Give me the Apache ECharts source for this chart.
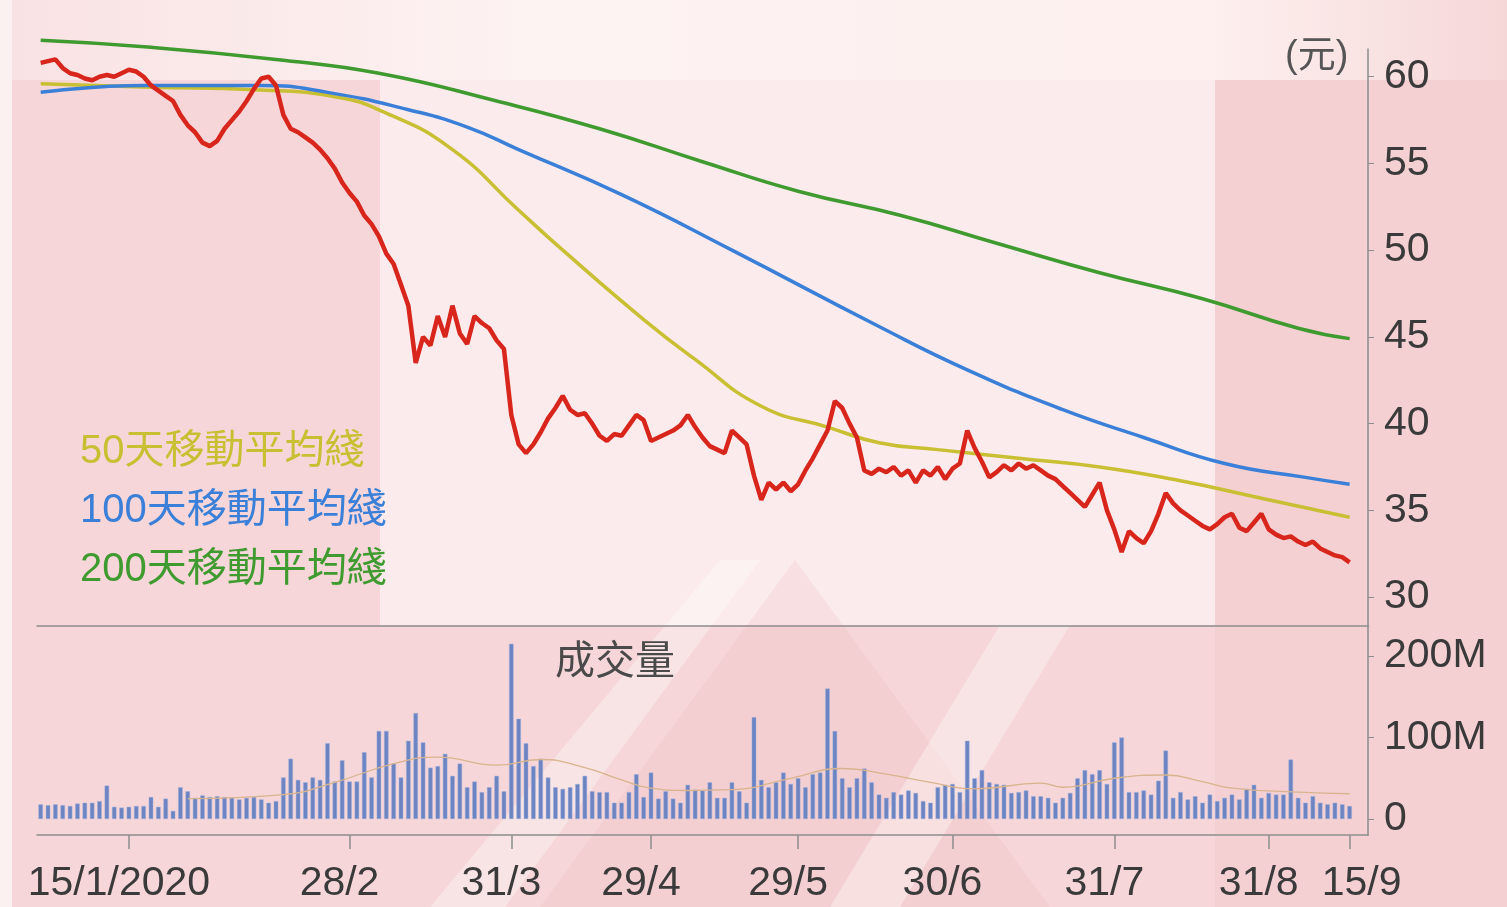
<!DOCTYPE html>
<html>
<head>
<meta charset="utf-8">
<script src="https://cdn.jsdelivr.net/npm/echarts@6/dist/echarts.min.js"></script>
<style>
html,body{margin:0;padding:0;background:#f5d3d5;}
#chart{width:1507px;height:907px;}
</style>
</head>
<body>
<div id="chart"></div>
<script>
// Trading days (HK), 27/12/2019 .. 15/9/2020
const dates = ['27/12','30/12','31/12','2/1','3/1','6/1','7/1','8/1','9/1','10/1','13/1','14/1','15/1','16/1','17/1','20/1','21/1','22/1','23/1','24/1','29/1','30/1','31/1',
'3/2','4/2','5/2','6/2','7/2','10/2','11/2','12/2','13/2','14/2','17/2','18/2','19/2','20/2','21/2','24/2','25/2','26/2','27/2','28/2',
'2/3','3/3','4/3','5/3','6/3','9/3','10/3','11/3','12/3','13/3','16/3','17/3','18/3','19/3','20/3','23/3','24/3','25/3','26/3','27/3','30/3','31/3',
'1/4','2/4','3/4','6/4','7/4','8/4','9/4','14/4','15/4','16/4','17/4','20/4','21/4','22/4','23/4','24/4','27/4','28/4','29/4',
'4/5','5/5','6/5','7/5','8/5','11/5','12/5','13/5','14/5','15/5','18/5','19/5','20/5','21/5','22/5','25/5','26/5','27/5','28/5','29/5',
'1/6','2/6','3/6','4/6','5/6','8/6','9/6','10/6','11/6','12/6','15/6','16/6','17/6','18/6','19/6','22/6','23/6','24/6','26/6','29/6','30/6',
'2/7','3/7','6/7','7/7','8/7','9/7','10/7','13/7','14/7','15/7','16/7','17/7','20/7','21/7','22/7','23/7','24/7','27/7','28/7','29/7','30/7','31/7',
'3/8','4/8','5/8','6/8','7/8','10/8','11/8','12/8','13/8','14/8','17/8','18/8','19/8','20/8','21/8','24/8','25/8','26/8','27/8','28/8','31/8',
'1/9','2/9','3/9','4/9','7/9','8/9','9/9','10/9','11/9','14/9','15/9'];

const tickDates = ['15/1','28/2','31/3','29/4','29/5','30/6','31/7','31/8','15/9'];
const priceTicks = [30,35,40,45,50,55,60];
const volumeTicks = [0,100,200];

// closing price (HK$)
const price = [60.8,60.9,61.0,60.5,60.2,60.1,59.9,59.8,60.0,60.1,
60.0,60.2,60.4,60.3,60.0,59.5,59.2,58.9,58.6,57.8,
57.2,56.8,56.2,56.0,56.3,57.0,57.5,58.0,58.6,59.3,
59.9,60.0,59.5,57.8,57.0,56.8,56.5,56.2,55.8,55.3,
54.7,53.9,53.3,52.8,52.0,51.5,50.8,49.8,49.2,48.0,
46.8,43.5,45.0,44.5,46.2,45.0,46.8,45.2,44.6,46.2,
45.8,45.5,44.8,44.3,40.5,38.8,38.3,38.8,39.5,40.3,
40.9,41.6,40.8,40.5,40.6,40.0,39.3,39.0,39.4,39.3,
39.9,40.5,40.2,39.0,39.2,39.4,39.6,39.9,40.5,39.8,
39.2,38.7,38.5,38.3,39.6,39.2,38.8,37.0,35.6,36.6,
36.2,36.6,36.1,36.5,37.3,38.0,38.8,39.6,41.3,40.9,
40.0,39.2,37.3,37.1,37.4,37.2,37.5,37.0,37.3,36.6,
37.3,37.0,37.5,36.8,37.4,37.7,39.6,38.6,37.8,36.9,
37.2,37.6,37.3,37.7,37.4,37.6,37.3,37.0,36.8,36.4,
36.0,35.6,35.2,35.9,36.6,35.0,33.9,32.6,33.8,33.4,
33.1,33.8,34.8,36.0,35.4,35.0,34.7,34.4,34.1,33.9,
34.2,34.6,34.8,34.0,33.8,34.3,34.8,33.9,33.6,33.4,
33.5,33.2,33.0,33.2,32.8,32.6,32.4,32.3,32.0];

// moving averages: [day index, value]
const ma50 = [[0,59.6],[15,59.4],[29,59.25],[40,58.85],[47,57.9],[56,55.8],[65,52.3],[71,50.0],[82,46.0],[89,43.7],[98,41.0],[107,39.8],[114,38.9],[122,38.5],[133,38.0],[144,37.5],[155,36.7],[166,35.7],[178,34.6]];
const ma100 = [[0,59.1],[14,59.5],[30,59.5],[39,59.1],[50,58.1],[58,57.1],[65,55.8],[79,53.2],[94,50.0],[114,45.6],[126,43.1],[139,40.8],[150,39.2],[161,37.7],[172,36.9],[178,36.5]];
const ma200 = [[0,62.1],[15,61.7],[32,61.0],[46,60.2],[62,58.6],[76,57.0],[90,55.1],[103,53.4],[117,52.0],[130,50.4],[144,48.7],[158,47.2],[171,45.5],[178,44.9]];

// daily volume (millions of shares)
const volume = [18,17,18,17,16,19,20,20,22,41,
15,14,15,16,16,27,15,25,10,39,
34,26,29,27,28,27,26,24,26,27,
24,20,22,51,74,48,45,51,48,93,
46,72,46,46,82,51,108,108,68,51,
96,130,94,63,65,80,53,68,39,46,
33,39,53,34,215,123,93,65,74,51,
39,37,39,43,53,34,33,33,20,20,
33,55,27,57,25,34,25,20,42,36,
35,45,26,26,45,34,20,125,48,39,
45,57,43,50,39,55,57,160,108,50,
39,50,62,45,30,26,33,30,35,32,
22,20,39,42,43,33,96,50,60,45,
43,42,32,33,35,28,28,26,20,26,
32,50,60,55,60,43,94,100,33,33,
35,30,47,84,26,33,24,28,20,30,
22,26,30,24,37,42,26,32,30,30,
73,26,20,28,20,18,20,18,16];
const volumeMA = [[20,25],[33,30],[40,45],[48,68],[54,76],[62,66],[68,73],[74,63],[79,48],[83,38],[88,35],[94,36],[102,50],[109,62],[115,55],[121,45],[127,37],[136,44],[139,39],[146,50],[153,54],[158,46],[162,38],[171,33],[178,31]];

const FONT = "'Liberation Sans','Noto Sans CJK TC',sans-serif";
const C50 = '#c9bf33', C100 = '#3b80d8', C200 = '#3f9b2f';

const chart = echarts.init(document.getElementById('chart'));
chart.setOption({
  backgroundColor: '#f6d6d8',
  animation: false,
  graphic: [
    {type:'rect', z:-10, silent:true, shape:{x:0,y:0,width:12,height:907}, style:{fill:'#fcf1f1'}},
    {type:'rect', z:-10, silent:true, shape:{x:12,y:0,width:1495,height:80},
      style:{fill:new echarts.graphic.LinearGradient(0,0,1,0,[{offset:0,color:'#f9e2e3'},{offset:0.35,color:'#fdf3f2'},{offset:0.8,color:'#fdf0ef'},{offset:1,color:'#f6d7d8'}])}},
    {type:'rect', z:-10, silent:true, shape:{x:380,y:80,width:835,height:545}, style:{fill:'rgba(255,255,255,0.5)'}},
    {type:'rect', z:-10, silent:true, shape:{x:1215,y:80,width:292,height:827}, style:{fill:'rgba(240,190,195,0.25)'}},
    {type:'polygon', z:-9, silent:true, shape:{points:[[430,907],[505,907],[760,560],[720,560]]}, style:{fill:'rgba(255,255,255,0.35)'}},
    {type:'polygon', z:-9, silent:true, shape:{points:[[540,907],[795,560],[1050,907]]}, style:{fill:'rgba(236,180,185,0.22)'}},
    {type:'polygon', z:-9, silent:true, shape:{points:[[1000,625],[1070,625],[900,907],[830,907]]}, style:{fill:'rgba(255,255,255,0.35)'}},
    {type:'text', z:10, left:1285, top:38, style:{text:'(元)', font:'38px '+FONT, fill:'#555'}},
    {type:'text', z:10, left:555, top:643, style:{text:'成交量', font:'40px '+FONT, fill:'#4a4a4a'}}
  ],
  legend: {
    orient:'vertical', left:70, top:425, itemWidth:0, itemHeight:0, itemGap:15, icon:'rect',
    selectedMode:false,
    textStyle:{fontSize:40, fontFamily:FONT, lineHeight:44},
    data:[
      {name:'50天移動平均綫', textStyle:{color:C50}},
      {name:'100天移動平均綫', textStyle:{color:C100}},
      {name:'200天移動平均綫', textStyle:{color:C200}}
    ]
  },
  grid: [
    {left:37, top:49, width:1331, height:577},
    {left:37, top:626, width:1331, height:209}
  ],
  xAxis: [
    {type:'category', gridIndex:0, data:dates, max:180, boundaryGap:true,
     axisLine:{show:true, onZero:false, lineStyle:{color:'#8d8d8d', width:1.5}}, axisTick:{show:false}, axisLabel:{show:false}},
    {type:'category', gridIndex:1, data:dates, max:180, boundaryGap:true,
     axisLine:{show:true, onZero:false, lineStyle:{color:'#8d8d8d', width:1.5}},
     axisTick:{show:true, alignWithLabel:true, length:14, lineStyle:{color:'#8d8d8d', width:1.5},
       interval:(i,v)=>tickDates.includes(v)},
     axisLabel:{show:true, margin:28, fontSize:41, fontFamily:FONT, color:'#3a3a3a',
       interval:(i,v)=>tickDates.includes(v),
       formatter:(v)=> v==='15/1' ? '{a|15/1/2020}' : (v==='15/9' ? '{b|15/9}' : '{a|'+v+'}'),
       rich:{a:{fontSize:41, fontFamily:FONT, color:'#3a3a3a', padding:[0,20,0,0]},
             b:{fontSize:41, fontFamily:FONT, color:'#3a3a3a', padding:[0,0,0,24]}}}}
  ],
  yAxis: [
    {type:'value', gridIndex:0, position:'right', min:28.33, max:61.6,
     axisLine:{show:true, lineStyle:{color:'#8d8d8d', width:1.5}},
     axisTick:{show:true, length:6, customValues:priceTicks, lineStyle:{color:'#8d8d8d'}},
     axisLabel:{margin:16, fontSize:41, fontFamily:FONT, color:'#3a3a3a', customValues:priceTicks},
     splitLine:{show:false}},
    {type:'value', gridIndex:1, position:'right', min:-19.6, max:236.8,
     axisLine:{show:true, lineStyle:{color:'#8d8d8d', width:1.5}},
     axisTick:{show:true, length:6, customValues:volumeTicks, lineStyle:{color:'#8d8d8d'}},
     axisLabel:{margin:16, fontSize:41, fontFamily:FONT, color:'#3a3a3a', customValues:volumeTicks,
       formatter:v=> v===0 ? '0' : v+'M'},
     splitLine:{show:false}}
  ],
  series: [
    {name:'200天移動平均綫', type:'line', xAxisIndex:0, yAxisIndex:0, data:ma200, smooth:true, symbol:'none', clip:false,
     lineStyle:{color:C200, width:3.5}, itemStyle:{color:C200}, z:3},
    {name:'100天移動平均綫', type:'line', xAxisIndex:0, yAxisIndex:0, data:ma100, smooth:true, symbol:'none', clip:false,
     lineStyle:{color:C100, width:3.5}, itemStyle:{color:C100}, z:4},
    {name:'50天移動平均綫', type:'line', xAxisIndex:0, yAxisIndex:0, data:ma50, smooth:true, symbol:'none', clip:false,
     lineStyle:{color:C50, width:3.5}, itemStyle:{color:C50}, z:3},
    {name:'股價', type:'line', xAxisIndex:0, yAxisIndex:0, data:price, symbol:'none', clip:false,
     lineStyle:{color:'#d8261d', width:4.5}, z:5},
    {name:'成交量', type:'bar', xAxisIndex:1, yAxisIndex:1, data:volume, barWidth:4.5,
     itemStyle:{color:'#6d84c2', borderColor:'#9fb0dc', borderWidth:0.5}, z:3},
    {name:'成交量平均', type:'line', xAxisIndex:1, yAxisIndex:1, data:volumeMA, smooth:true, symbol:'none',
     lineStyle:{color:'#d8b48e', width:1.3}, z:4}
  ]
});
</script>
</body>
</html>
